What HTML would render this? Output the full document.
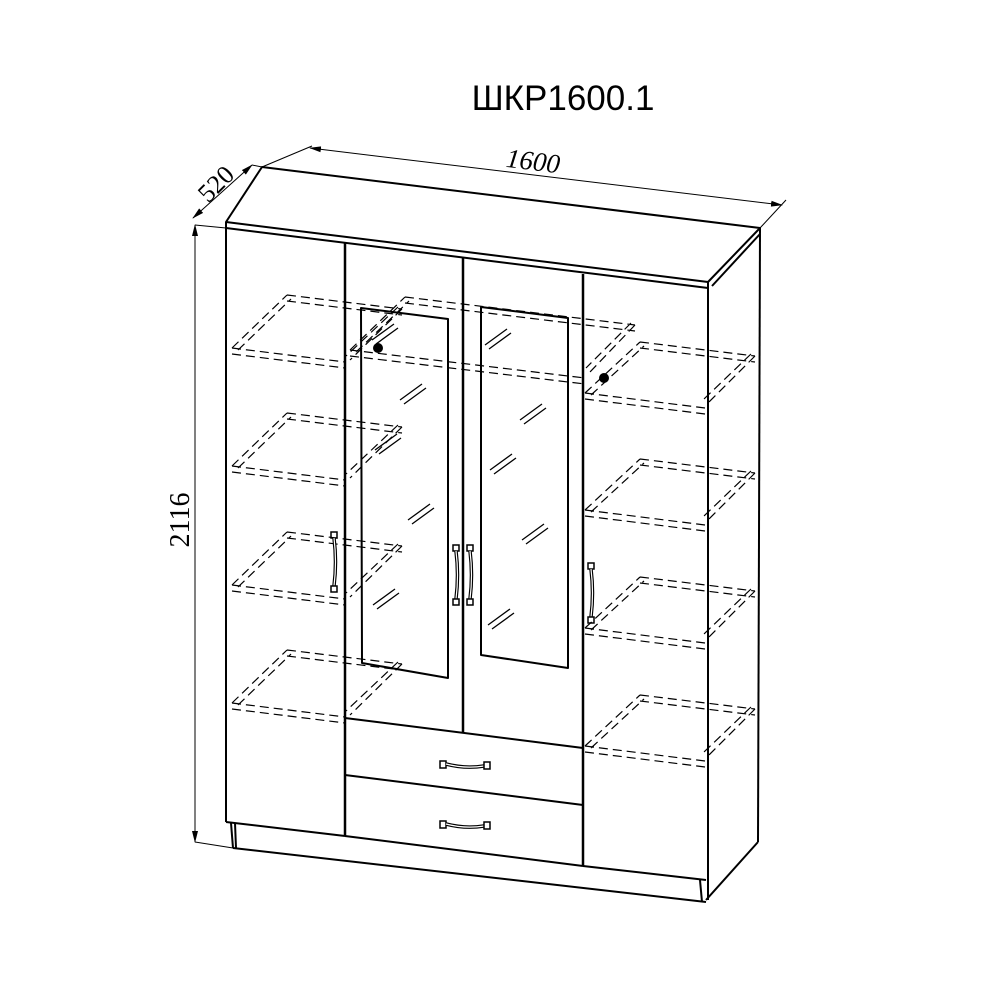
<!DOCTYPE html>
<html><head><meta charset="utf-8"><style>html,body{margin:0;padding:0;background:#fff}svg{display:block}</style></head>
<body>
<svg width="1000" height="1000" viewBox="0 0 1000 1000" xmlns="http://www.w3.org/2000/svg">
<defs>
<marker id="ar" markerWidth="12" markerHeight="8" refX="11" refY="4" orient="auto-start-reverse" markerUnits="userSpaceOnUse"><path d="M0,1 L12,4 L0,7z" fill="#000"/></marker>
<g id="hatch"><line x1="0" y1="10" x2="22" y2="-6" stroke="#000" stroke-width="1.3"/><line x1="4" y1="14" x2="26" y2="-2" stroke="#000" stroke-width="1.3"/></g>
<g id="vh"><rect x="-3" y="0" width="6" height="6" fill="none" stroke="#000" stroke-width="1.5"/><path d="M0,6 Q3,30 0,54" fill="none" stroke="#000" stroke-width="3.5"/><path d="M0,6 Q3,30 0,54" fill="none" stroke="#fff" stroke-width="1.2"/><rect x="-3" y="54" width="6" height="6" fill="none" stroke="#000" stroke-width="1.5"/></g>
<g id="dh"><rect x="0" y="-3" width="6" height="7" fill="none" stroke="#000" stroke-width="1.5"/><path d="M6,0 Q25,5 44,2" fill="none" stroke="#000" stroke-width="3.5"/><path d="M6,0 Q25,5 44,2" fill="none" stroke="#fff" stroke-width="1.2"/><rect x="44" y="-2" width="6" height="7" fill="none" stroke="#000" stroke-width="1.5"/></g>
</defs>
<text x="563" y="110" font-family="Liberation Sans, sans-serif" font-size="35" text-anchor="middle">ШКР1600.1</text>
<g fill="none" stroke="#000" stroke-width="1">
<line x1="310" y1="148" x2="782" y2="205" marker-start="url(#ar)" marker-end="url(#ar)"/>
<line x1="262" y1="167" x2="312" y2="146"/>
<line x1="760" y1="228" x2="786" y2="200"/>
<line x1="193" y1="218" x2="252" y2="165" marker-start="url(#ar)" marker-end="url(#ar)"/>
<line x1="252" y1="165" x2="262" y2="167"/>
<line x1="195" y1="225" x2="195" y2="842" marker-start="url(#ar)" marker-end="url(#ar)"/>
<line x1="195" y1="225" x2="226" y2="228"/>
<line x1="195" y1="842" x2="233" y2="848"/>
</g>
<text transform="translate(532,170) rotate(7)" font-family="Liberation Serif, serif" font-style="italic" font-size="27" text-anchor="middle">1600</text>
<text transform="translate(222,190) rotate(-45)" font-family="Liberation Serif, serif" font-size="26" text-anchor="middle">520</text>
<text transform="translate(189,520) rotate(-90)" font-family="Liberation Serif, serif" font-size="28" text-anchor="middle">2116</text>

<g fill="none" stroke="#000" stroke-width="1.2" stroke-dasharray="9,5">
<g id="shL">
<path d="M232,348 L345,362 M232,354 L345,368 M232,348 L287,295 M238,350 L291,299 M287,295 L402,309 M287,301 L402,315 M402,309 L350,360 M398,307 L346,356"/>
</g>
<use href="#shL" y="118"/><use href="#shL" y="237"/><use href="#shL" y="355"/>
<g id="shR">
<path d="M585,393 L705,408 M585,399 L705,414 M585,393 L640,342 M591,395 L644,346 M640,342 L755,356 M640,348 L755,362 M755,356 L708,403 M751,354 L704,399"/>
</g>
<use href="#shR" y="117"/><use href="#shR" y="235"/><use href="#shR" y="353"/>
<path d="M350,350 L585,378 M350,356 L585,384 M350,350 L405,297 M356,352 L409,301 M405,297 L635,325 M405,303 L635,331 M635,325 L590,372 M631,323 L586,368"/>
</g>

<g fill="none" stroke="#000" stroke-width="2" stroke-linejoin="round">
<path d="M226,222 L262,167 L760,228 L708,282 Z" fill="none"/>
<line x1="226" y1="228" x2="708" y2="288"/>
<line x1="226" y1="222" x2="226" y2="228"/>
<line x1="712" y1="286" x2="760" y2="234"/>
<line x1="708" y1="282" x2="708" y2="900"/>
<line x1="760" y1="228" x2="758" y2="842"/>
<line x1="758" y1="842" x2="706" y2="900"/>
<line x1="226" y1="228" x2="226" y2="822"/>
<line x1="231" y1="823" x2="233" y2="848"/>
<line x1="235" y1="823" x2="236" y2="848"/>
<line x1="233" y1="848" x2="706" y2="902"/>
<line x1="700" y1="880" x2="702" y2="902"/>
<line x1="226" y1="822" x2="345" y2="836"/>
<line x1="345" y1="836" x2="583" y2="866"/>
<line x1="583" y1="866" x2="706" y2="880"/>
<line x1="345" y1="243" x2="345" y2="836" stroke-width="2.5"/>
<line x1="463" y1="258" x2="463" y2="733" stroke-width="2.5"/>
<line x1="583" y1="274" x2="583" y2="866" stroke-width="2.5"/>
<line x1="345" y1="718" x2="583" y2="748"/>
<line x1="345" y1="775" x2="583" y2="805"/>
<path d="M361,308 L448,319 L448,678 L362,663 Z"/>
<path d="M481,307 L568,318 L568,668 L481,655 Z"/>
</g>
<use href="#hatch" x="485" y="335"/><use href="#hatch" x="400" y="390"/><use href="#hatch" x="375" y="440"/>
<use href="#hatch" x="520" y="410"/><use href="#hatch" x="490" y="460"/><use href="#hatch" x="408" y="510"/>
<use href="#hatch" x="522" y="530"/><use href="#hatch" x="373" y="595"/><use href="#hatch" x="488" y="615"/>
<use href="#hatch" x="372" y="330"/>
<circle cx="378" cy="348" r="5" fill="#000"/><circle cx="604" cy="378" r="5" fill="#000"/>
<use href="#vh" x="334" y="532"/><use href="#vh" x="456" y="545"/><use href="#vh" x="470" y="545"/><use href="#vh" x="591" y="563"/>
<use href="#dh" x="440" y="764"/><use href="#dh" x="440" y="824"/>
</svg>
</body></html>
